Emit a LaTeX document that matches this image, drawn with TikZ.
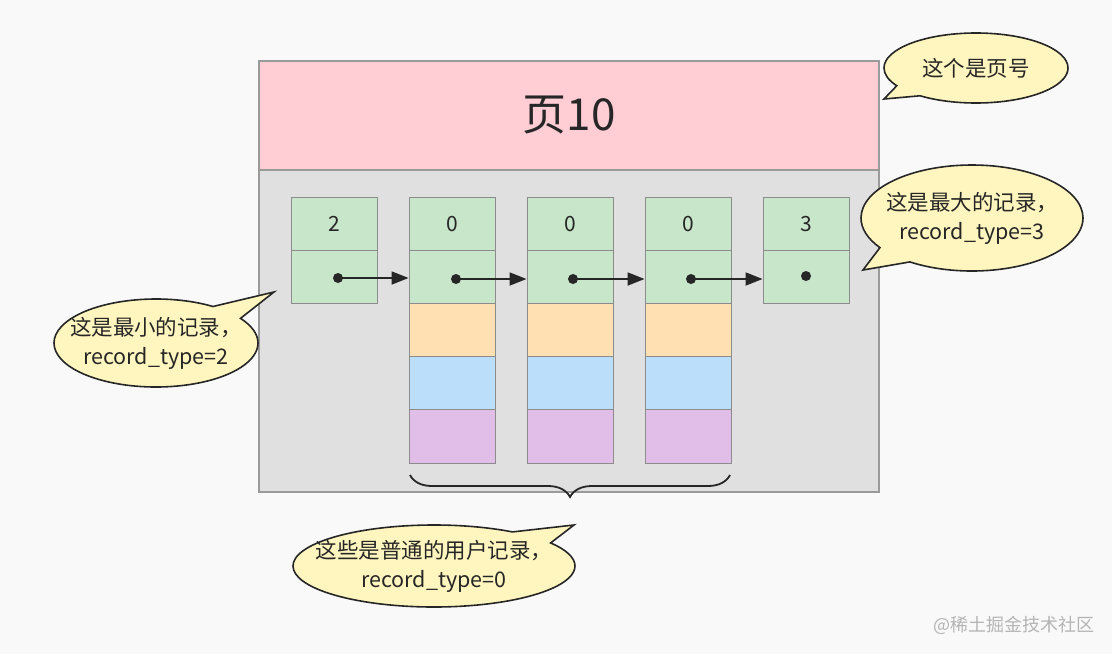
\documentclass[tikz,border=0pt]{standalone}
\usepackage{fontspec}
\setmainfont{Noto Sans CJK SC}
\usetikzlibrary{shapes.callouts,shapes.geometric,arrows.meta,decorations.pathreplacing}
\definecolor{bgc}{HTML}{F9F9F9}
\definecolor{pinkc}{HTML}{FFCDD3}
\definecolor{grayc}{HTML}{E0E0E0}
\definecolor{framec}{HTML}{9A9A9A}
\definecolor{greenc}{HTML}{C8E6C9}
\definecolor{orangec}{HTML}{FFE0B3}
\definecolor{bluec}{HTML}{BBDEFB}
\definecolor{purplec}{HTML}{E1BEE7}
\definecolor{cellline}{HTML}{8C8C8C}
\definecolor{yellowc}{HTML}{FFF6BF}
\definecolor{inkc}{HTML}{262626}
\definecolor{wmc}{HTML}{B4B4B4}
\tikzset{
  cell/.style={draw=cellline, line width=1pt, minimum width=86pt, minimum height=53.2pt, inner sep=0pt, font=\fontsize{21}{24}\selectfont, text=inkc},
  dotnode/.style={circle, fill=inkc, minimum size=10pt, inner sep=0pt},
  arr/.style={draw=inkc, line width=1.8pt, -{Triangle[length=17pt,width=13pt]}},
  bubble/.style={ellipse callout, draw=inkc, line width=1.6pt, fill=yellowc, inner sep=0pt, callout pointer arc=22},
  bubbletext/.style={align=center, text=inkc, inner sep=0pt, font=\fontsize{21.5}{29}\selectfont},
}
\begin{document}
\begin{tikzpicture}[x=1pt,y=-1pt]
\fill[bgc] (0,0) rectangle (1112,654);
\useasboundingbox (0,0) rectangle (1112,654);
% page
\node[draw=framec, line width=1.5pt, fill=grayc, minimum width=620pt, minimum height=322pt, inner sep=0pt] (body) at (569,331) {};
\node[draw=framec, line width=1.5pt, fill=pinkc, minimum width=620pt, minimum height=109pt, inner sep=0pt, font=\fontsize{44}{48}\selectfont, text=inkc] (head) at (569,115.5) {页10};
% columns
\foreach \i/\x/\v in {1/334/2,2/452/0,3/570/0,4/688/0,5/806/3}{
  \node[cell, fill=greenc] (c\i a) at (\x,223.6) {\v};
  \node[cell, fill=greenc] (c\i b) at (\x,276.8) {};
}
\foreach \i/\x in {2/452,3/570,4/688}{
  \node[cell, fill=orangec] (c\i c) at (\x,330.0) {};
  \node[cell, fill=bluec] (c\i d) at (\x,383.2) {};
  \node[cell, fill=purplec] (c\i e) at (\x,436.4) {};
}
% dots
\node[dotnode] (d1) at (338,278) {};
\node[dotnode] (d2) at (456,279) {};
\node[dotnode] (d3) at (573,279) {};
\node[dotnode] (d4) at (691,279) {};
\node[dotnode] (d5) at (806,276) {};
\draw[arr] (d1.center) -- (d1.center -| c2b.west);
\draw[arr] (d2.center) -- (d2.center -| c3b.west);
\draw[arr] (d3.center) -- (d3.center -| c4b.west);
\draw[arr] (d4.center) -- (d4.center -| c5b.west);
% brace
\coordinate (br) at (730,475);
\coordinate (bl) at (410,475);
\draw[draw=inkc, line width=1.8pt, decorate, decoration={brace, amplitude=22pt, aspect=0.5}] (br) -- (bl);
% callouts
\node[bubble, minimum width=184pt, minimum height=70pt, callout absolute pointer={(884,99)}] (b1) at (976,68) {};
\node[bubbletext] (t1) at (b1.center) {这个是页号};
\node[bubble, minimum width=222pt, minimum height=106pt, callout absolute pointer={(863,270)}] (b2) at (972,218) {};
\node[bubbletext] (t2) at (b2.center) {这是最大的记录，\\record\_type=3};
\node[bubble, minimum width=204pt, minimum height=88pt, callout absolute pointer={(274,292)}] (b3) at (156,343) {};
\node[bubbletext] (t3) at (b3.center) {这是最小的记录，\\record\_type=2};
\node[bubble, minimum width=282pt, minimum height=82pt, callout absolute pointer={(574,525)}] (b4) at (434,566) {};
\node[bubbletext] (t4) at (b4.center) {这些是普通的用户记录，\\record\_type=0};
% watermark
\node[text=wmc, font=\fontsize{18}{20}\selectfont, inner sep=0pt] (wm) at (1014,625) {@稀土掘金技术社区};
\end{tikzpicture}
\end{document}
